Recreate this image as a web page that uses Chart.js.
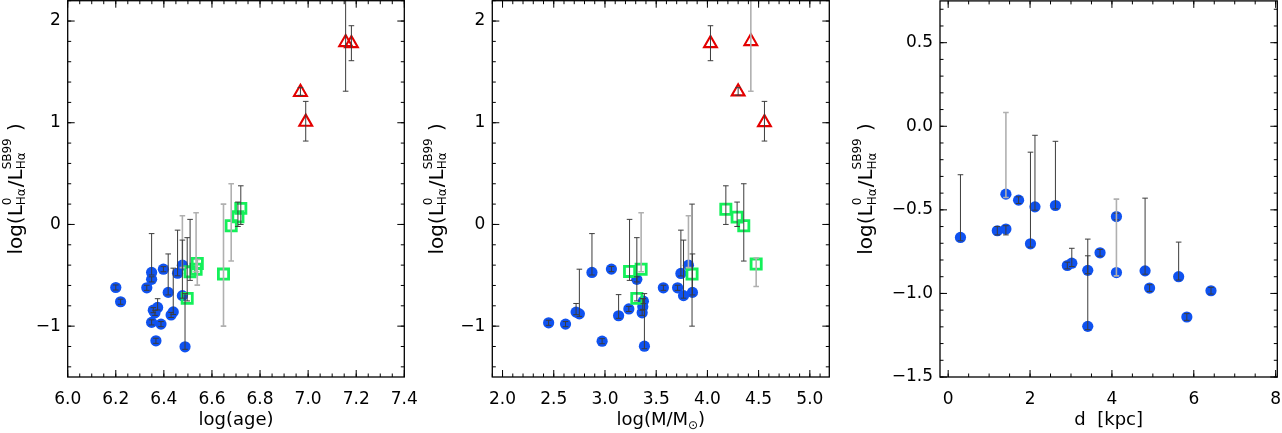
<!DOCTYPE html>
<html>
<head>
<meta charset="utf-8">
<script src="https://cdn.jsdelivr.net/npm/chart.js@4.4.1/dist/chart.umd.min.js"></script>
<style>
html,body{margin:0;padding:0;background:#fff;}
#wrap{position:relative;width:1282px;height:433px;overflow:hidden;background:#fff;}
#wrap canvas{position:absolute;left:0;top:0;width:1282px;height:433px;}
</style>
</head>
<body>
<div id="wrap">
<canvas id="c1" width="1282" height="433"></canvas>
<canvas id="c2" width="1282" height="433"></canvas>
<canvas id="c3" width="1282" height="433"></canvas>
</div>
<script>
// ---------------- DATA ----------------
// Panel 1: log(age)
const p1BlueX  = [6.200,6.220,6.349,6.349,6.329,6.398,6.418,6.457,6.477,6.477,6.356,6.374,6.363,6.349,6.388,6.367,6.430,6.439,6.488];
const p1BlueY  = [-0.620,-0.760,-0.472,-0.540,-0.623,-0.440,-0.668,-0.480,-0.400,-0.700,-0.843,-0.816,-0.869,-0.963,-0.980,-1.144,-0.890,-0.860,-1.203];
const p1BlueLo = [-0.645,-0.785,-0.497,-0.565,-0.648,-0.465,-0.693,-0.505,-0.425,-0.725,-0.868,-0.841,-0.894,-0.988,-1.005,-1.169,-0.915,-0.885,-1.228];
const p1BlueHi = [-0.595,-0.735,-0.090,-0.515,-0.598,-0.415,-0.290,-0.056,0.085,-0.154,-0.818,-0.730,-0.844,-0.938,-0.955,-1.119,-0.865,-0.430,-0.680];

const p1GreenX  = [6.497,6.509,6.534,6.539,6.648,6.680,6.708,6.720];
const p1GreenY  = [-0.727,-0.466,-0.440,-0.383,-0.488,-0.013,0.075,0.158];
const p1GreenLo = [-0.752,-0.550,-0.465,-0.597,-1.000,-0.360,-0.020,0.000];
const p1GreenHi = [-0.130,0.050,0.115,-0.344,0.200,0.400,0.220,0.380];

const p1RedX  = [6.968,6.990,7.156,7.180];
const p1RedY  = [1.300,1.007,1.790,1.780];
const p1RedLo = [1.270,0.820,1.310,1.610];
const p1RedHi = [1.345,1.210,2.400,1.954];

// Panel 2: log(M/Msun)
const p2BlueX  = [2.450,2.615,2.718,2.750,2.873,2.972,3.063,3.133,3.233,3.311,3.363,3.369,3.375,3.385,3.570,3.709,3.741,3.767,3.815,3.854];
const p2BlueY  = [-0.967,-0.980,-0.862,-0.879,-0.472,-1.148,-0.439,-0.898,-0.831,-0.540,-0.869,-0.810,-0.754,-1.197,-0.623,-0.623,-0.482,-0.700,-0.400,-0.668];
const p2BlueLo = [-0.992,-1.005,-0.887,-0.904,-0.497,-1.173,-0.464,-0.923,-0.856,-0.565,-0.894,-0.835,-0.779,-1.222,-0.648,-0.648,-0.507,-0.725,-0.425,-0.693];
const p2BlueHi = [-0.942,-0.955,-0.777,-0.440,-0.090,-1.123,-0.414,-0.690,-0.806,-0.515,-0.844,-0.730,-0.729,-0.680,-0.598,-0.598,-0.056,-0.154,0.085,-0.290];

const p2GreenX  = [3.240,3.353,3.311,3.850,4.180,4.290,4.355,4.476];
const p2GreenY  = [-0.462,-0.440,-0.727,-0.488,0.150,0.072,-0.013,-0.390];
const p2GreenLo = [-0.550,-0.465,-0.752,-1.000,0.000,-0.020,-0.360,-0.610];
const p2GreenHi = [0.050,0.115,-0.130,0.200,0.380,0.220,0.400,-0.330];

const p2RedX  = [4.030,4.300,4.424,4.557];
const p2RedY  = [1.780,1.305,1.800,1.003];
const p2RedLo = [1.610,1.270,1.310,0.820];
const p2RedHi = [1.954,1.345,2.400,1.210];

// Panel 3: d [kpc]
const p3X  = [0.30,1.20,1.41,1.41,1.72,2.01,2.12,2.62,2.91,3.02,3.41,3.41,3.71,4.11,4.11,4.81,4.92,5.63,5.83,6.42];
const p3Y  = [-0.665,-0.625,-0.615,-0.406,-0.442,-0.703,-0.482,-0.474,-0.833,-0.819,-0.862,-1.197,-0.757,-0.540,-0.875,-0.865,-0.968,-0.900,-1.141,-0.984];
const p3Lo = [-0.685,-0.650,-0.650,-0.426,-0.462,-0.723,-0.502,-0.494,-0.853,-0.839,-0.882,-1.217,-0.777,-0.560,-0.895,-0.885,-0.988,-0.920,-1.161,-1.004];
const p3Hi = [-0.290,-0.600,-0.595,0.082,-0.422,-0.155,-0.054,-0.090,-0.813,-0.730,-0.775,-0.675,-0.737,-0.520,-0.436,-0.430,-0.948,-0.693,-1.121,-0.964];

// Tick labels
const p1XTicks = [6.0,6.2,6.4,6.6,6.8,7.0,7.2,7.4];
const p12YTicks = [-1,0,1,2];
const p2XTicks = [2.0,2.5,3.0,3.5,4.0,4.5,5.0];
const p3XTicks = [0,2,4,6,8];
const p3YTicks = [-1.5,-1.0,-0.5,0.0,0.5];

// ---------------- STYLE ----------------
const FONT = "'DejaVu Sans', 'Liberation Sans', sans-serif";
const BLUE = '#0f52f0', GREEN = '#14f05a', RED = '#e40000';
const DARK = '#3c3c3c', LIGHT = '#b0b0b0';
const W = 1282;

function pts(xs, ys, lo, hi) {
  return xs.map((x, i) => ({x: x, y: ys[i], lo: lo[i], hi: hi[i]}));
}
const minus = s => s.replace('-', '\u2212');

// error bars plugin (uses the chart's scales)
const errorBarPlugin = {
  id: 'errorBars',
  afterDatasetsDraw(chart) {
    const ctx = chart.ctx, xs = chart.scales.x, ys = chart.scales.y, a = chart.chartArea;
    ctx.save();
    ctx.beginPath(); ctx.rect(a.left, a.top, a.right - a.left, a.bottom - a.top); ctx.clip();
    chart.data.datasets.forEach(ds => {
      const light = ds.errLight || [];
      ds.data.forEach((p, i) => {
        const x = xs.getPixelForValue(p.x);
        const yl = ys.getPixelForValue(p.lo), yh = ys.getPixelForValue(p.hi);
        const isL = light.includes(i);
        ctx.strokeStyle = isL ? LIGHT : DARK;
        ctx.lineWidth = isL ? 1.6 : 1;
        ctx.beginPath();
        ctx.moveTo(x, yl); ctx.lineTo(x, yh);
        ctx.moveTo(x - 2.8, yl); ctx.lineTo(x + 2.8, yl);
        ctx.moveTo(x - 2.8, yh); ctx.lineTo(x + 2.8, yh);
        ctx.stroke();
      });
    });
    ctx.restore();
  }
};

// frame + inward ticks (IDL style)
const framePlugin = {
  id: 'frame',
  afterDraw(chart) {
    const ctx = chart.ctx, a = chart.chartArea, xs = chart.scales.x, ys = chart.scales.y;
    const o = chart.options.plugins.frame;
    ctx.save();
    ctx.strokeStyle = '#000';
    ctx.lineWidth = 1;
    ctx.beginPath();
    const eps = 1e-6;
    const doX = (step, len) => {
      for (let v = Math.ceil((xs.min - eps) / step) * step; v <= xs.max + eps; v += step) {
        const x = xs.getPixelForValue(v);
        ctx.moveTo(x, a.bottom); ctx.lineTo(x, a.bottom - len);
        ctx.moveTo(x, a.top); ctx.lineTo(x, a.top + len);
      }
    };
    const doY = (step, len) => {
      for (let v = Math.ceil((ys.min - eps) / step) * step; v <= ys.max + eps; v += step) {
        const y = ys.getPixelForValue(v);
        ctx.moveTo(a.left, y); ctx.lineTo(a.left + len, y);
        ctx.moveTo(a.right, y); ctx.lineTo(a.right - len, y);
      }
    };
    doX(o.xMinor, 3.5); doX(o.xMajor, 7);
    doY(o.yMinor, 3.5); doY(o.yMajor, 7);
    ctx.stroke();
    ctx.lineWidth = 1.3;
    ctx.strokeRect(a.left, a.top, a.right - a.left, a.bottom - a.top);
    ctx.restore();
  }
};

// axis titles with sub/superscripts
function drawSegs(ctx, segs, mainPx, smallPx) {
  const mf = mainPx + 'px ' + FONT, sf = smallPx + 'px ' + FONT;
  let total = 0;
  const widths = segs.map(s => {
    let w;
    if (s.stack) {
      ctx.font = sf;
      w = Math.max(...s.stack.map(t => ctx.measureText(t.t).width)) + 1;
    } else {
      ctx.font = s.small ? sf : mf;
      w = ctx.measureText(s.t).width;
    }
    total += w; return w;
  });
  let x = -total / 2;
  ctx.textBaseline = 'alphabetic';
  ctx.textAlign = 'left';
  segs.forEach((s, i) => {
    if (s.stack) {
      ctx.font = sf;
      s.stack.forEach(t => ctx.fillText(t.t, x, t.dy));
    } else {
      ctx.font = s.small ? sf : mf;
      ctx.fillText(s.t, x, s.dy || 0);
    }
    x += widths[i];
  });
}
const yTitleSegs = [
  {t: 'log(L'},
  {stack: [{t: '0', dy: -11}, {t: 'H\u03b1', dy: 3.5}]},
  {t: '/L'},
  {stack: [{t: 'SB99', dy: -11}, {t: 'H\u03b1', dy: 3.5}]},
  {t: ' )'}
];
const titlePlugin = {
  id: 'titles',
  afterDraw(chart) {
    const ctx = chart.ctx, a = chart.chartArea, o = chart.options.plugins.titles;
    ctx.save();
    ctx.fillStyle = '#000';
    ctx.translate(o.yBase, (a.top + a.bottom) / 2);
    ctx.rotate(-Math.PI / 2);
    drawSegs(ctx, yTitleSegs, 20, 12);
    ctx.restore();
    ctx.save();
    ctx.fillStyle = '#000';
    ctx.translate((a.left + a.right) / 2, 425);
    drawSegs(ctx, o.xSegs, 18, 12);
    ctx.restore();
  }
};

function makeChart(id, cfg) {
  const tickFont = {family: FONT, size: 17};
  return new Chart(document.getElementById(id), {
    type: 'scatter',
    data: {
      datasets: [
        cfg.red ? {data: cfg.red.data, errLight: cfg.red.light, pointStyle: 'triangle', pointRadius: 7.4, borderColor: RED, backgroundColor: 'rgba(0,0,0,0)', borderWidth: 2.1} : null,
        cfg.green ? {data: cfg.green.data, errLight: cfg.green.light, pointStyle: 'rect', pointRadius: 7.2, borderColor: GREEN, backgroundColor: 'rgba(0,0,0,0)', borderWidth: 2.8} : null,
        {data: cfg.blue.data, errLight: cfg.blue.light, pointStyle: 'circle', pointRadius: 5.6, borderWidth: 0, borderColor: BLUE, backgroundColor: BLUE}
      ].filter(Boolean)
    },
    options: {
      responsive: false,
      animation: false,
      events: [],
      layout: {autoPadding: false, padding: {left: cfg.left - 60, right: W - cfg.right, top: cfg.top, bottom: 0}},
      plugins: {
        legend: {display: false},
        tooltip: {enabled: false},
        frame: cfg.frame,
        titles: {yBase: cfg.yBase, xSegs: cfg.xSegs}
      },
      scales: {
        x: {
          type: 'linear', min: cfg.xMin, max: cfg.xMax,
          grid: {display: false, drawTicks: false}, border: {display: false},
          ticks: {font: tickFont, color: '#000', padding: 12, maxRotation: 0, autoSkip: false,
                  callback: v => cfg.xFmt(v)},
          afterBuildTicks: s => { s.ticks = cfg.xTicks.map(v => ({value: v})); },
          afterFit: s => { s.height = 56; s.paddingLeft = 0; s.paddingRight = 0; }
        },
        y: {
          type: 'linear', min: cfg.yMin, max: cfg.yMax,
          grid: {display: false, drawTicks: false}, border: {display: false},
          ticks: {font: tickFont, color: '#000', padding: 7, autoSkip: false,
                  callback: v => cfg.yFmt(v)},
          afterBuildTicks: s => { s.ticks = cfg.yTicks.map(v => ({value: v})); },
          afterFit: s => { s.width = 60; s.paddingTop = 0; s.paddingBottom = 0; }
        }
      }
    },
    plugins: [errorBarPlugin, framePlugin, titlePlugin]
  });
}

makeChart('c1', {
  left: 67.7, right: 404.3, top: 0.7,
  xMin: 6.0, xMax: 7.4, yMin: -1.5, yMax: 2.2,
  xTicks: p1XTicks, yTicks: p12YTicks,
  xFmt: v => v.toFixed(1), yFmt: v => minus(v.toFixed(0)),
  frame: {xMajor: 0.2, xMinor: 0.05, yMajor: 1, yMinor: 0.2},
  yBase: 21.5,
  xSegs: [{t: 'log(age)'}],
  blue: {data: pts(p1BlueX, p1BlueY, p1BlueLo, p1BlueHi), light: [8]},
  green: {data: pts(p1GreenX, p1GreenY, p1GreenLo, p1GreenHi), light: [2, 3, 4, 5]},
  red: {data: pts(p1RedX, p1RedY, p1RedLo, p1RedHi), light: []}
});

makeChart('c2', {
  left: 492.3, right: 829.3, top: 0.7,
  xMin: 1.9, xMax: 5.19, yMin: -1.5, yMax: 2.2,
  xTicks: p2XTicks, yTicks: p12YTicks,
  xFmt: v => v.toFixed(1), yFmt: v => minus(v.toFixed(0)),
  frame: {xMajor: 0.5, xMinor: 0.1, yMajor: 1, yMinor: 0.2},
  yBase: 442.7,
  xSegs: [{t: 'log(M/M'}, {t: '\u2299', small: true, dy: 4}, {t: ')'}],
  blue: {data: pts(p2BlueX, p2BlueY, p2BlueLo, p2BlueHi), light: [18]},
  green: {data: pts(p2GreenX, p2GreenY, p2GreenLo, p2GreenHi), light: [1, 7]},
  red: {data: pts(p2RedX, p2RedY, p2RedLo, p2RedHi), light: [2]}
});

makeChart('c3', {
  left: 940, right: 1277.3, top: 0.9,
  xMin: -0.2, xMax: 8.04, yMin: -1.5, yMax: 0.75,
  xTicks: p3XTicks, yTicks: p3YTicks,
  xFmt: v => v.toFixed(0), yFmt: v => minus(v.toFixed(1)),
  frame: {xMajor: 2, xMinor: 0.5, yMajor: 0.5, yMinor: 0.1},
  yBase: 872,
  xSegs: [{t: 'd  [kpc]'}],
  blue: {data: pts(p3X, p3Y, p3Lo, p3Hi), light: [3, 14]}
});
</script>
</body>
</html>
